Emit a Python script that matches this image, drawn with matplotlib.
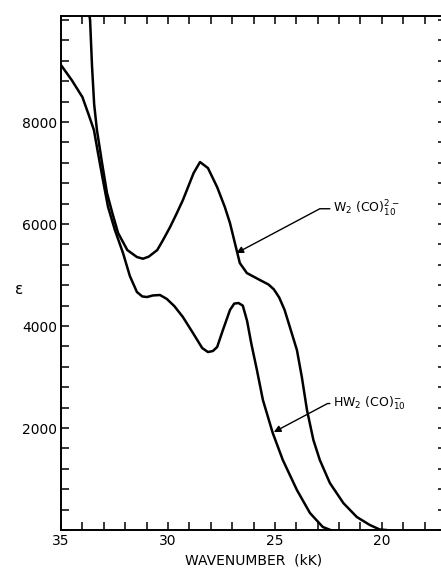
import matplotlib.pyplot as plt
from matplotlib.ticker import MultipleLocator

# W2(CO)10 2-  (wavenumber in kK, epsilon)
k_w2 = [33.75, 33.64, 33.55, 33.45, 33.32, 33.08, 32.85, 32.6, 32.33, 31.9, 31.45, 31.17, 30.9,
        30.5, 30.23, 29.9, 29.6, 29.3, 28.8, 28.5, 28.13, 27.7, 27.34, 27.1, 26.87,
        26.64, 26.31, 25.7, 25.3, 25.05, 24.8, 24.55, 24.3, 23.97, 23.74, 23.5, 23.2, 22.9,
        22.43, 21.8, 21.17, 20.56, 20.1, 19.8]
e_w2 = [10300, 10000, 9100, 8350, 7843, 7196, 6608, 6216, 5824, 5490, 5353, 5320, 5360,
        5490, 5686, 5941, 6200, 6471, 7000, 7216, 7098, 6725, 6333, 6020, 5627,
        5235, 5039, 4902, 4815, 4720, 4560, 4320, 3980, 3529, 3000, 2353, 1765, 1373,
        922, 529, 255, 98, 10, 0]

# HW2(CO)10 -
k_hw = [35.0, 34.5, 34.0, 33.7, 33.46, 33.27, 33.04, 32.8, 32.48, 32.1, 31.78, 31.45,
        31.2, 30.98, 30.7, 30.37, 30.05, 29.7, 29.3, 28.83, 28.4, 28.13, 27.9, 27.7,
        27.43, 27.1, 26.9, 26.7, 26.5, 26.3, 26.1, 25.84, 25.56, 25.1, 24.63, 23.97,
        23.36, 22.76, 22.4]
e_hw = [9118, 8824, 8490, 8137, 7843, 7392, 6863, 6333, 5882, 5431, 4980, 4667,
        4580, 4569, 4600, 4608, 4530, 4390, 4176, 3863, 3569, 3490, 3510, 3588,
        3922, 4314, 4440, 4451, 4400, 4100, 3650, 3137, 2549, 1902, 1373, 784,
        333, 59, 0]

fig = plt.figure(figsize=(4.41, 5.69), dpi=100)
ax = fig.add_axes([61 / 441, 1 - 530 / 569, 385 / 441, 514 / 569])

ax.plot(k_w2, e_w2, color='black', lw=1.8, solid_joinstyle='round')
ax.plot(k_hw, e_hw, color='black', lw=1.8, solid_joinstyle='round')

ax.set_xlim(35, 17)
ax.set_ylim(0, 10080)
ax.xaxis.set_major_locator(MultipleLocator(5))
ax.xaxis.set_minor_locator(MultipleLocator(1))
ax.set_yticks([2000, 4000, 6000, 8000])
ax.yaxis.set_minor_locator(MultipleLocator(400))
ax.tick_params(which='both', direction='in', top=True, right=True, length=6, width=1.1,
               labelsize=10, pad=3)
for s in ax.spines.values():
    s.set_linewidth(1.4)

ax.set_xlabel('WAVENUMBER  (kK)', fontsize=10, labelpad=4)
fig.text(15 / 441, 1 - 290 / 569, '\u03b5', fontsize=11, ha='left', va='center')

arrow = dict(arrowstyle='-|>', color='black', lw=1.0, mutation_scale=10,
             shrinkA=0, shrinkB=0, connectionstyle='angle,angleA=0,angleB=28,rad=0')
ax.annotate(r'W$_2$ (CO)$_{10}^{2-}$', xy=(26.8, 5430), xytext=(22.3, 6300),
            fontsize=9, va='center', ha='left', arrowprops=arrow)
ax.annotate(r'HW$_2$ (CO)$_{10}^{-}$', xy=(25.05, 1920), xytext=(22.3, 2480),
            fontsize=9, va='center', ha='left', arrowprops=arrow)

fig.savefig('out.png', dpi=100)
